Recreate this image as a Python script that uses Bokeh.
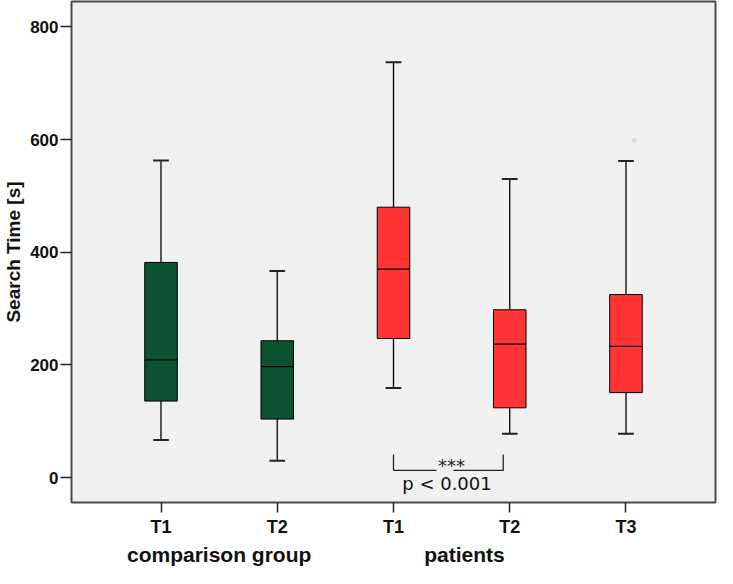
from bokeh.plotting import figure
from bokeh.models import ColumnDataSource, FixedTicker, LinearAxis
from bokeh.core.properties import value
from bokeh.embed import file_html
from bokeh.resources import INLINE

# ---- data ----
positions = [1, 2, 3, 4, 5]
tick_labels = ["T1", "T2", "T1", "T2", "T3"]
groups = ["comparison", "comparison", "patients", "patients", "patients"]
whisker_low = [67, 30, 159, 78, 78]
q1 = [136, 104, 247, 124, 151]
median = [209, 197, 370, 237, 233]
q3 = [382, 243, 480, 298, 325]
whisker_high = [563, 367, 737, 530, 562]
outlier_x = [5.07]
outlier_y = [599]

group_label_pos = [1.5, 3.61]
group_label_text = ["comparison group", "patients"]

# significance bracket between patients T1 and T2
bracket_x = [3.0, 3.944]
bracket_top = 41
bracket_bottom = 13
bracket_gap = [3.37, 3.515]
stars_x, stars_y = 3.50, 22
p_text_x, p_text_y = 3.46, -10

colors = {"comparison": "#0c5231", "patients": "#ff3535"}
box_w = 0.28
cap_w = 0.135

src = ColumnDataSource(dict(
    x=positions, q1=q1, q3=q3, med=median, lo=whisker_low, hi=whisker_high,
    color=[colors[g] for g in groups],
    xl=[x - box_w / 2 for x in positions], xr=[x + box_w / 2 for x in positions],
    cl=[x - cap_w / 2 for x in positions], cr=[x + cap_w / 2 for x in positions],
))

p = figure(width=717, height=568, x_range=(0.23, 5.77), y_range=(-44, 845),
           output_backend="svg", toolbar_location=None,
           min_border_left=67, min_border_right=2, min_border_top=1, min_border_bottom=0,
           background_fill_color="#f0f0f0", border_fill_color="white")
p.outline_line_color = "#4a4a4a"
p.outline_line_width = 2
p.xgrid.visible = False
p.ygrid.visible = False

# whiskers
p.segment(x0="x", y0="q3", x1="x", y1="hi", source=src, line_color="black", line_width=1.3)
p.segment(x0="x", y0="q1", x1="x", y1="lo", source=src, line_color="black", line_width=1.3)
p.segment(x0="cl", y0="hi", x1="cr", y1="hi", source=src, line_color="#222222", line_width=2)
p.segment(x0="cl", y0="lo", x1="cr", y1="lo", source=src, line_color="#222222", line_width=2)
# boxes
p.quad(left="xl", right="xr", bottom="q1", top="q3", source=src,
       fill_color="color", line_color="black", line_width=1)
p.segment(x0="xl", y0="med", x1="xr", y1="med", source=src, line_color="black", line_width=1.3)
# outlier (faint)
p.scatter(outlier_x, outlier_y, size=5, fill_color="#dadada", line_color=None)

# bracket
p.segment(x0=[bracket_x[0], bracket_x[1], bracket_x[0], bracket_gap[1]],
          y0=[bracket_top, bracket_top, bracket_bottom, bracket_bottom],
          x1=[bracket_x[0], bracket_x[1], bracket_gap[0], bracket_x[1]],
          y1=[bracket_bottom, bracket_bottom, bracket_bottom, bracket_bottom],
          line_color="#222222", line_width=1.3)
p.text(x=[stars_x], y=[stars_y], text=["***"], text_align="center", text_baseline="middle",
       text_font=value("DejaVu Sans"), text_font_size="18px", text_color="#222222")
p.text(x=[p_text_x], y=[p_text_y], text=["p < 0.001"], text_align="center", text_baseline="middle",
       text_font=value("DejaVu Sans"), text_font_size="18px", text_color="#111111")

# y axis
ya = p.yaxis[0]
ya.ticker = FixedTicker(ticks=[0, 200, 400, 600, 800])
ya.axis_line_color = None
ya.major_tick_in = 0
ya.major_tick_out = 11
ya.major_tick_line_width = 1.5
ya.major_tick_line_color = "#222222"
ya.minor_tick_line_color = None
ya.major_label_standoff = 2
ya.major_label_text_font = "Liberation Sans"
ya.major_label_text_font_style = "bold"
ya.major_label_text_font_size = "17px"
ya.major_label_text_color = "#111111"
ya.axis_label = "Search Time [s]"
ya.axis_label_text_font = "Liberation Sans"
ya.axis_label_text_font_style = "bold"
ya.axis_label_text_font_size = "19px"
ya.axis_label_text_color = "#111111"
ya.axis_label_standoff = 3

# x axis (time points)
xa = p.xaxis[0]
xa.axis_label = None
xa.ticker = FixedTicker(ticks=positions)
xa.major_label_overrides = {pos: lab for pos, lab in zip(positions, tick_labels)}
xa.axis_line_color = None
xa.major_tick_in = 0
xa.major_tick_out = 10
xa.major_tick_line_width = 1.5
xa.major_tick_line_color = "#222222"
xa.minor_tick_line_color = None
xa.major_label_standoff = 4
xa.major_label_text_font = "Liberation Sans"
xa.major_label_text_font_style = "bold"
xa.major_label_text_font_size = "18px"
xa.major_label_text_color = "#111111"

# group axis
ga = LinearAxis(ticker=FixedTicker(ticks=group_label_pos), axis_label=None,
                major_label_overrides={pos: t for pos, t in zip(group_label_pos, group_label_text)})
ga.axis_line_color = None
ga.major_tick_line_color = None
ga.minor_tick_line_color = None
ga.major_tick_out = 0
ga.major_tick_in = 0
ga.major_label_standoff = 3
ga.major_label_text_font = "Liberation Sans"
ga.major_label_text_font_style = "bold"
ga.major_label_text_font_size = "21px"
ga.major_label_text_color = "#111111"
p.add_layout(ga, "below")

open("out.html", "w").write(file_html(p, INLINE))
